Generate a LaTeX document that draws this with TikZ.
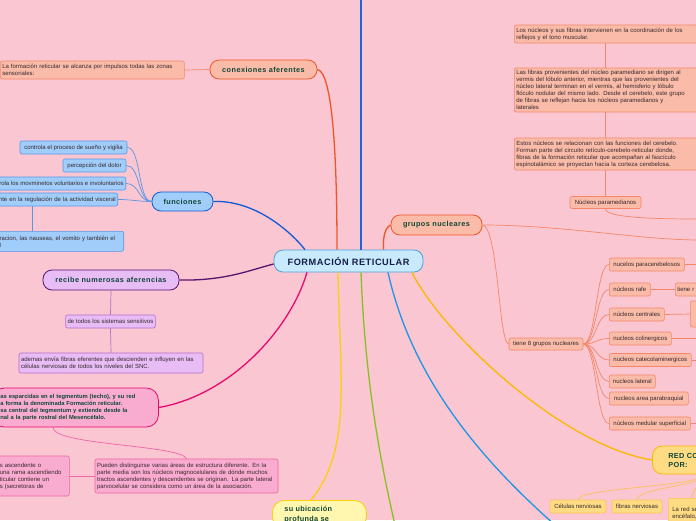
\documentclass[tikz,border=0pt]{standalone}
\usepackage{fontspec}
\setmainfont{Liberation Sans}
\usetikzlibrary{positioning,calc}

\definecolor{mapbg}{RGB}{249,198,209}
\definecolor{rootfill}{RGB}{200,234,252}
\definecolor{rootline}{RGB}{80,160,220}
\definecolor{navytext}{RGB}{20,30,70}
\definecolor{titletext}{RGB}{15,70,55}
\definecolor{leaftext}{RGB}{55,40,45}
\definecolor{salmonfill}{RGB}{250,188,168}
\definecolor{salmonline}{RGB}{245,135,105}
\definecolor{conexline}{RGB}{240,85,40}
\definecolor{bluefill}{RGB}{160,205,250}
\definecolor{blueedge}{RGB}{90,150,230}
\definecolor{funcline}{RGB}{20,90,210}
\definecolor{purplefill}{RGB}{232,188,245}
\definecolor{purpleedge}{RGB}{180,110,200}
\definecolor{purpline}{RGB}{90,20,110}
\definecolor{pinkfill}{RGB}{250,172,208}
\definecolor{pinkedge}{RGB}{240,100,165}
\definecolor{magline}{RGB}{230,10,110}
\definecolor{yellowfill}{RGB}{255,246,175}
\definecolor{yelline}{RGB}{250,208,10}
\definecolor{greenline}{RGB}{140,190,40}
\definecolor{lowblue}{RGB}{30,150,230}
\definecolor{topblue}{RGB}{30,100,225}
\definecolor{goldfill}{RGB}{255,220,132}
\definecolor{goldline}{RGB}{250,185,0}
\definecolor{goldedge}{RGB}{250,195,90}

\tikzset{
  rootnode/.style={draw=rootline, fill=rootfill, rounded corners=9pt, line width=.8pt,
    minimum width=149pt, minimum height=22pt, text=navytext,
    font={\fontsize{9.2}{10}\selectfont\bfseries\addfontfeature{LetterSpace=6}}},
  topic/.style={rounded corners=9pt, line width=.8pt, inner sep=2pt, text=titletext,
    font={\fontsize{7.3}{9}\selectfont\bfseries\addfontfeature{LetterSpace=6}}},
  salmontopic/.style={topic, draw=conexline, fill=salmonfill},
  bluetopic/.style={topic, draw=funcline, fill=bluefill},
  purpletopic/.style={topic, draw=purpline, fill=purplefill},
  pinktopic/.style={topic, draw=magline, fill=pinkfill, rounded corners=12pt,
    font={\fontsize{5.8}{7.3}\selectfont\bfseries}},
  yellowtopic/.style={topic, draw=yelline, fill=yellowfill, rounded corners=12pt,
    font={\fontsize{7.3}{9.5}\selectfont\bfseries\addfontfeature{LetterSpace=4}}},
  goldtopic/.style={topic, draw=goldline, fill=goldfill, rounded corners=10pt,
    font={\fontsize{7.3}{9}\selectfont\bfseries\addfontfeature{LetterSpace=4}}},
  leaf/.style={rounded corners=2pt, line width=.6pt, inner xsep=2pt, inner ysep=1.5pt,
    align=left, text=leaftext, font={\fontsize{6}{7}\selectfont}},
  salmonleaf/.style={leaf, draw=salmonline, fill=salmonfill},
  blueleaf/.style={leaf, draw=blueedge, fill=bluefill},
  purpleleaf/.style={leaf, draw=purpleedge, fill=purplefill},
  pinkleaf/.style={leaf, draw=pinkedge, fill=pinkfill},
  goldleaf/.style={leaf, draw=goldedge, fill=goldfill},
  branch/.style={line width=1.3pt},
  salmontwig/.style={line width=.7pt, draw=salmonline},
  bluetwig/.style={line width=.7pt, draw=blueedge},
  purpletwig/.style={line width=.7pt, draw=purpleedge},
  pinktwig/.style={line width=.7pt, draw=pinkedge},
  goldtwig/.style={line width=.7pt, draw=goldedge}
}

\begin{document}
\begin{tikzpicture}[x=1pt,y=-1pt]
\useasboundingbox (0,0) rectangle (696,520);
\fill[mapbg] (0,0) rectangle (696,520);

\node[rootnode] (root) at (348.5,261) {FORMACIÓN RETICULAR};

% conexiones aferentes
\node[salmontopic, minimum width=107pt, minimum height=19pt] (conex) at (263.5,69.5) {conexiones aferentes};
\node[salmonleaf, anchor=west, text width=180pt, inner xsep=2pt, minimum height=18pt] (conexleaf) at (0,70)
  {La formación reticular se alcanza por impulsos todas las zonas\\sensoriales:};

% funciones
\node[bluetopic, minimum width=61pt, minimum height=19pt] (func) at (182.5,201.5) {funciones};
\node[blueleaf, minimum width=107pt, minimum height=13pt] (f1) at (73.5,147.5) {controla el proceso de sueño y vigilia};
\node[blueleaf, minimum width=63pt, minimum height=13pt] (f2) at (94.5,165.5) {percepción del dolor};
\node[blueleaf, anchor=east, minimum height=13pt] (f3) at (126,183.5) {controla los movminetos voluntarios e involuntarios};
\node[blueleaf, anchor=east, minimum height=13pt, text width=125pt, align=right] (f4) at (118,199.5)
  {nte en la regulación de la actividad visceral};
\node[blueleaf, anchor=north east, minimum height=20pt, text width=122pt] (f5) at (124,231)
  {racion, las nauseas, el vomito y también el\\l};

% recibe numerosas aferencias
\node[purpletopic, minimum width=136pt, minimum height=20pt] (recibe) at (111,280) {recibe numerosas aferencias};
\node[purpleleaf, minimum width=87pt, minimum height=13pt] (r1) at (110.5,321.5) {de todos los sistemas sensitivos};
\node[purpleleaf, text width=180pt, minimum height=20pt] (r2) at (111,363)
  {ademas envía fibras eferentes que descienden e influyen en las\\células nerviosas de todos los niveles del SNC.};

% tegmentum
\node[pinktopic, anchor=west, text width=150pt, inner xsep=8pt, minimum height=39pt, align=left] (pink) at (-8,407.5)
  {as esparcidas en el tegmentum (techo), y su red\\a forma la denominada Formación reticular.\\sa central del tegmentum y extiende desde la\\nal a la parte rostral del Mesencéfalo.};
\node[pinkleaf, anchor=west, text width=62pt, inner xsep=7.5pt, minimum height=40pt] (pinkleft) at (-8,476)
  {s ascendente o\\una rama ascendiendo\\ticular contiene un\\s (secretoras de};
\node[pinkleaf, text width=179pt, minimum height=34pt] (pueden) at (186.5,476)
  {Pueden distinguirse varias áreas de estructura diferente. En la\\parte media son los núcleos magnocelulares de dónde muchos\\tractos ascendentes y descendentes se originan. La parte lateral\\parvocelular se considera como un área de la asociación.};

% ubicacion
\node[yellowtopic, anchor=north west, text width=70pt, align=left, inner xsep=12pt, inner ysep=6pt] (ubic) at (272,500)
  {su ubicación\\profunda se};

% grupos nucleares
\node[salmontopic, minimum width=91pt, minimum height=20pt] (grupos) at (436.5,225) {grupos nucleares};
\node[salmonleaf, anchor=west, text width=182pt, minimum height=18pt] (nucA) at (514,34)
  {Los núcleos y sus fibras intervienen en la coordinación de los\\reflejos y el tono muscular.};
\node[salmonleaf, anchor=west, text width=182pt, minimum height=44pt] (nucB) at (514,90)
  {Las fibras provenientes del núcleo paramediano se dirigen al\\vermis del lóbulo anterior, mientras que las provenientes del\\núcleo lateral terminan en el vermis, al hemisferio y lóbulo\\flóculo nodular del mismo lado. Desde el cerebelo, este grupo\\de fibras se reflejan hacia los núcleos paramedianos y\\laterales};
\node[salmonleaf, anchor=west, text width=182pt, minimum height=32pt] (nucC) at (514,154)
  {Estos núcleos se relacionan con las funciones del cerebelo.\\Forman parte del circuito retículo-cerebelo-reticular donde,\\fibras de la formación reticular que acompañan al fascículo\\espinotalámico se proyectan hacia la corteza cerebelosa.};
\node[salmonleaf, minimum width=71pt, minimum height=12pt] (para) at (605.5,202.5) {Núcleos paramedianos};

\node[salmonleaf, minimum width=74pt, minimum height=12pt] (ocho) at (546,344) {tiene 8 grupos nucleares};
\node[salmonleaf, anchor=west, minimum width=75pt, minimum height=13pt] (nA) at (609,264.5) {nucelos paracerebelosos};
\node[salmonleaf, anchor=west, minimum width=41pt, minimum height=13pt] (nB) at (609,289.5) {núcleos rafe};
\node[salmonleaf, anchor=west, minimum width=55pt, minimum height=13pt] (nC) at (609,314.5) {núcleos centrales};
\node[salmonleaf, anchor=west, minimum width=62pt, minimum height=13pt] (nD) at (609,338.5) {nucleos colinergicos};
\node[salmonleaf, anchor=west, minimum width=82pt, minimum height=13pt] (nE) at (609,360) {nucleos catecolaminergicos};
\node[salmonleaf, anchor=west, minimum width=46pt, minimum height=13pt] (nF) at (609,381.5) {nucleos lateral};
\node[salmonleaf, anchor=west, minimum width=79pt, minimum height=13pt] (nG) at (609,398.5) {nucleos area parabraquial};
\node[salmonleaf, anchor=west, minimum width=81pt, minimum height=13pt] (nH) at (609,423.5) {núcleos medular superficial};
\node[salmonleaf, anchor=west, text width=40pt, minimum height=13pt] (rafeB) at (675,289.5) {tiene r};
\node[salmonleaf, anchor=west, minimum width=30pt, minimum height=26pt] (centB) at (690,314) {};

% red conformada
\node[goldtopic, anchor=west, text width=70pt, align=left, inner xsep=16pt, minimum height=28pt] (red) at (652,460) {RED CO\\POR:};
\node[goldleaf, minimum width=56pt, minimum height=13pt] (cel) at (578,506.5) {Células nerviosas};
\node[goldleaf, minimum width=50pt, minimum height=13pt] (fib) at (637,506.5) {fibras nerviosas};
\node[goldleaf, anchor=north west, text width=40pt, inner xsep=4pt, minimum height=30pt] (lared) at (668,498) {La red se\\encéfalo,};

% free ends at the border
\coordinate (upOut) at (361,-5);
\coordinate (greenOut) at (395,525);
\coordinate (blueOut) at (555,525);
\coordinate (paraOut) at (700,219);
\coordinate (grupOut) at (700,240);
\coordinate (fx) at (32,0);

% main branches
\draw[branch, topblue] (root.north -| upOut) -- (upOut);
\draw[branch, conexline] (conex.east) .. controls (332,72) and (337,150) .. ([xshift=-11.5pt]root.north);
\draw[branch, funcline] (func.east) .. controls (250,200) and (285,225) .. ([xshift=-43.5pt]root.north);
\draw[branch, conexline] (grupos.west) .. controls (384,228) and (383,240) .. ([xshift=35pt]root.north);
\draw[branch, purpline] (recibe.east) .. controls (225,281) and (250,270) .. ([yshift=-3pt]root.west);
\draw[branch, magline] ([xshift=-41.5pt]root.south) .. controls (290,330) and (230,395) .. (pink.east);
\draw[branch, yelline] ([xshift=-10.5pt]root.south) .. controls (340,380) and (352,450) .. ([xshift=39pt]ubic.north west);
\draw[branch, greenline] ([xshift=12.5pt]root.south) .. controls (365,380) and (380,460) .. (greenOut);
\draw[branch, lowblue] ([xshift=39.5pt]root.south) .. controls (410,370) and (470,450) .. (blueOut);
\draw[branch, goldline] ([xshift=63.5pt]root.south) .. controls (440,330) and (560,445) .. (red.west);

% left twigs
\draw[salmontwig] (conexleaf.east) -- (conex.west);
\foreach \f in {f1,f2,f3,f4}{\draw[bluetwig] (func.west) .. controls +(-14,0) and +(14,0) .. (\f.east);}
\draw[bluetwig] (f4.south -| fx) -- (f5.north -| fx);
\draw[purpletwig] (recibe.south) -- (r1.north);
\draw[purpletwig] (r1.south) -- (r2.north);
\draw[pinktwig] ([xshift=61pt]pink.south west) .. controls +(0,18) and +(-6,-14) .. (pueden.north);
\draw[pinktwig] (pinkleft.east) -- (pueden.west);

% right twigs
\draw[salmontwig] (nucA.south -| para.north) -- (nucB.north -| para.north);
\draw[salmontwig] (nucB.south -| para.north) -- (nucC.north -| para.north);
\draw[salmontwig] (nucC.south -| para.north) -- (para.north);
\draw[salmontwig] (para.south) .. controls +(0,9) and +(-45,0) .. (paraOut);
\draw[salmontwig] (grupos.east) .. controls +(80,0) and +(-60,0) .. (grupOut);
\draw[salmontwig] (grupos.east) .. controls +(16,2) and +(-10,0) .. (ocho.west);
\foreach \n in {nA,nB,nC,nD,nE,nF,nG,nH}{\draw[salmontwig] (ocho.east) .. controls +(13,0) and +(-13,0) .. (\n.west);}
\foreach \n in {nA,nD,nE,nH}{\draw[salmontwig] (\n.east) -- ++(30,0);}
\draw[salmontwig] (nB.east) -- (rafeB.west);
\draw[salmontwig] (nC.east) -- (centB.west);
\foreach \c in {cel,fib,lared}{\draw[goldtwig] (red.south) .. controls +(0,12) and +(0,-12) .. (\c.north);}

\end{tikzpicture}
\end{document}
